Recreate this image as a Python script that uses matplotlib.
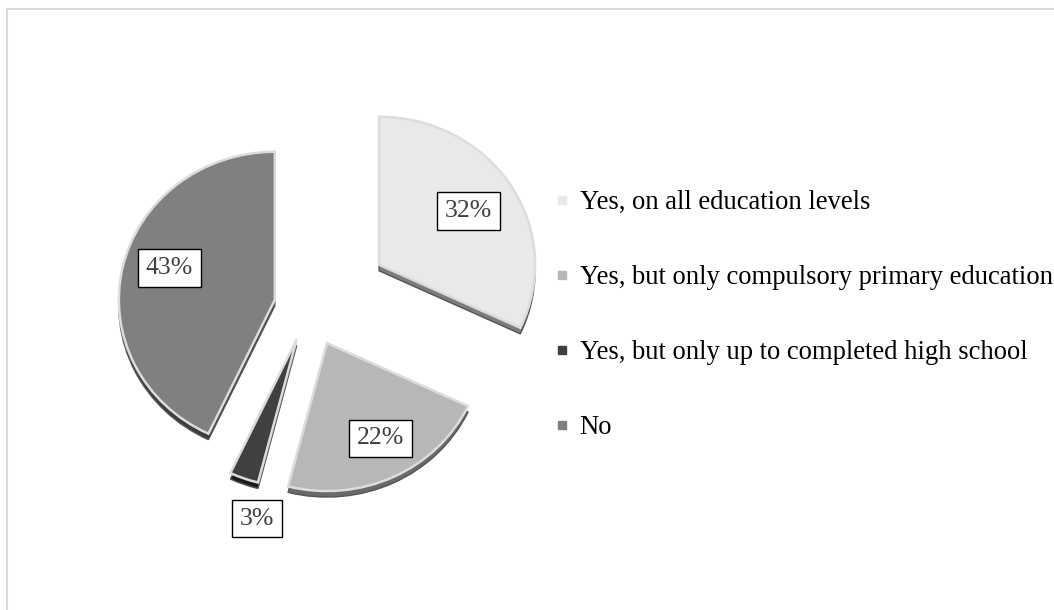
import numpy as np
import matplotlib
matplotlib.use("Agg")
import matplotlib.pyplot as plt
from matplotlib.lines import Line2D
from matplotlib.patches import Rectangle

plt.rcParams['font.family'] = ['Liberation Serif', 'DejaVu Serif']

# data
categories = ["Yes, on all education levels",
              "Yes, but only compulsory primary education",
              "Yes, but only up to completed high school",
              "No"]
values = [32, 22, 3, 43]
face_colors = ["#e9e9e9", "#b7b7b7", "#404040", "#808080"]
side_colors = ["#7c7c7c", "#6a6a6a", "#1c1c1c", "#3c3c3c"]
explode = [83, 42, 36, 35]          # in pixels
label_dist = [0.68, 0.73, 1.24, 0.71]
label_turn = [0, 3, 8, -5]          # degrees

W, H = 1054, 610
k = 148 / 156                       # slight tilt of the pie: vertical squash

fig = plt.figure(figsize=(W / 100, H / 100), dpi=100)
ax = fig.add_axes([0, 0, 1, 1])

# chart border (cropped on right and bottom)
fig.patches.append(Rectangle((7 / W, -0.05), 1.1, 1 - 9 / H + 0.05, transform=fig.transFigure,
                             fill=False, edgecolor="#d9d9d9", lw=1.5))

cx, cy, R = 309, (H - 307) / k, 156
depth = 6 / k

# extruded side, drawn beneath
ax.pie(values, explode=explode, radius=R, center=(cx, cy - depth), startangle=90,
       counterclock=False, colors=side_colors, frame=True,
       wedgeprops=dict(edgecolor="#555555", linewidth=1, zorder=1))
wedges, _ = ax.pie(values, explode=explode, radius=R, center=(cx, cy), startangle=90,
                   counterclock=False, colors=face_colors, frame=True,
                   wedgeprops=dict(edgecolor="#dcdcdc", linewidth=1.8, zorder=2))
ax.set_aspect('auto')
ax.set_xlim(0, W)
ax.set_ylim(0, H / k)
ax.axis('off')

for w, v, d, t in zip(wedges, values, label_dist, label_turn):
    mid = np.deg2rad((w.theta1 + w.theta2) / 2 + t)
    x = w.center[0] + d * w.r * np.cos(mid)
    y = w.center[1] + d * w.r * np.sin(mid)
    ax.text(x, y, f"{v}%", ha='center', va='center', fontsize=18.5, color="#404040", zorder=5,
            bbox=dict(boxstyle='square,pad=0.3', facecolor='white', edgecolor='black', lw=1))

handles = [Line2D([], [], marker='s', linestyle='none', markersize=5.5,
                  markerfacecolor=c, markeredgecolor=c) for c in face_colors]
ax.legend(handles, categories, loc='upper left', bbox_to_anchor=(557 / W, 1 - 190 / H),
          frameon=False, fontsize=19.2, labelspacing=1.88, handlelength=0.4,
          handletextpad=0.45, borderaxespad=0, borderpad=0)

fig.savefig("out.png", dpi=100, facecolor='white')
